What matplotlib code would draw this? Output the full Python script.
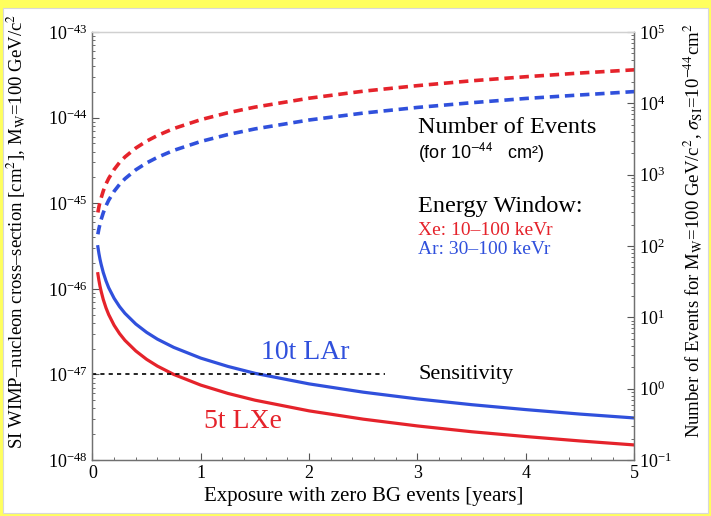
import matplotlib
matplotlib.use('Agg')
import matplotlib.pyplot as plt
from matplotlib.patches import Rectangle
from matplotlib.ticker import LogLocator, MultipleLocator

plt.rcParams['font.family'] = ['Liberation Serif', 'DejaVu Serif']
plt.rcParams['mathtext.fontset'] = 'stix'

# exposure [years]
years = [0.05, 0.06, 0.07, 0.08, 0.1, 0.125, 0.15, 0.2, 0.25, 0.3, 0.4, 0.5,
         0.6, 0.75, 1.0, 1.25, 1.5, 2.0, 2.5, 3.0, 3.5, 4.0, 4.5, 5.0]

# sensitivity curves, in units of 1e-48 cm^2
xe_sens = [150, 125, 107, 94, 75, 60, 50, 37.5, 30, 25, 18.8, 15,
           12.5, 10, 7.5, 6.0, 5.0, 3.75, 3.0, 2.5, 2.14, 1.88, 1.67, 1.5]
ar_sens = [310, 258, 221, 194, 155, 124, 103, 77.5, 62, 51.7, 38.8, 31,
           25.8, 20.7, 15.5, 12.4, 10.3, 7.75, 6.2, 5.17, 4.43, 3.88, 3.44, 3.1]

# number of events (right axis)
xe_events = [295, 355, 415, 470, 590, 740, 885, 1180, 1480, 1770, 2360, 2950,
             3540, 4430, 5900, 7380, 8850, 11800, 14800, 17700, 20700, 23600, 26600, 29500]
ar_events = [146, 175, 204, 234, 292, 365, 438, 584, 730, 876, 1170, 1460,
             1750, 2190, 2920, 3650, 4380, 5840, 7300, 8760, 10200, 11700, 13100, 14600]

sens_level = 1e-47
sens_x_end = 2.7

RED = '#e5232b'
BLUE = '#3050dc'

fig = plt.figure(figsize=(7.11, 5.16), dpi=100)
fig.patch.set_facecolor('#ffff5e')
fig.patches.append(Rectangle((3 / 711, 3 / 516), 705 / 711, 505 / 516,
                             transform=fig.transFigure, facecolor='white',
                             edgecolor='#d8d8d8', lw=0.8, zorder=-5))

ax = fig.add_axes([0.130, 0.1085, 0.762, 0.8295])
ax.set_facecolor('none')
ax2 = ax.twinx()

ax.plot(years, [v * 1e-48 for v in xe_sens], color=RED, lw=2.3)
ax.plot(years, [v * 1e-48 for v in ar_sens], color=BLUE, lw=2.3)
ax.hlines(sens_level, 0, sens_x_end, color='black', lw=1.2,
          linestyles=(0, (2.5, 2.5)))

ax2.plot(years, xe_events, color=RED, lw=2.6, ls=(0, (2.6, 1.6)))
ax2.plot(years, ar_events, color=BLUE, lw=2.6, ls=(0, (2.6, 1.6)))

ax.set_yscale('log')
ax.set_ylim(1e-48, 1e-43)
ax.set_xlim(0, 5)
ax2.set_yscale('log')
ax2.set_ylim(1e-1, 1e5)

ax.xaxis.set_major_locator(MultipleLocator(1))
ax.xaxis.set_minor_locator(MultipleLocator(0.2))
ax.yaxis.set_major_locator(LogLocator(base=10, numticks=10))
ax.yaxis.set_minor_locator(LogLocator(base=10, subs=range(2, 10), numticks=20))
ax2.yaxis.set_major_locator(LogLocator(base=10, numticks=10))
ax2.yaxis.set_minor_locator(LogLocator(base=10, subs=range(2, 10), numticks=20))

for a in (ax, ax2):
    for s in a.spines.values():
        s.set_color('#707070')
        s.set_linewidth(0.9)
    a.spines['top'].set_color('#d0d0d0')
ax.tick_params(axis='both', which='both', direction='in', top=False,
               colors='#555555', labelcolor='black', labelsize=13)
ax.tick_params(which='major', length=5)
ax.tick_params(which='minor', length=2.5)
ax2.tick_params(axis='y', which='both', direction='in', colors='#555555',
                labelcolor='black', labelsize=13)
ax2.tick_params(which='major', length=5)
ax2.tick_params(which='minor', length=2.5)

ax.set_xlabel('Exposure with zero BG events [years]', fontsize=15, labelpad=4)
ax.set_ylabel('SI WIMP\u2013nucleon cross\u2013section [cm$^2$], M$_\\mathrm{W}$=100 GeV/c$^2$',
              fontsize=13.5)
ax2.set_ylabel('Number of Events for M$_\\mathrm{W}$=100 GeV/c$^2$, '
               '$\\sigma_\\mathrm{SI}$=10$^{-44}$cm$^2$', fontsize=13.5)
ax.yaxis.set_label_coords(-0.118, 0.535)
ax2.yaxis.set_label_coords(1.088, 0.535)

ax.text(0.392, 0.252, '10t LAr', transform=ax.transAxes, color=BLUE,
        fontsize=20, ha='center', va='center')
ax.text(0.278, 0.089, '5t LXe', transform=ax.transAxes, color=RED,
        fontsize=20, ha='center', va='center')
ax.text(0.601, 0.199, 'Sensitivity', transform=ax.transAxes,
        fontsize=16, ha='left', va='center')
ax.text(0.601, 0.776, 'Number of Events', transform=ax.transAxes,
        fontsize=17.5, ha='left', va='center')
ax.text(0.601, 0.717, '(for 10$^{\\mathsf{-44}}$   cm\u00b2)', transform=ax.transAxes,
        fontsize=13, ha='left', va='center', family=['Liberation Sans', 'DejaVu Sans'])
ax.text(0.601, 0.593, 'Energy Window:', transform=ax.transAxes,
        fontsize=17.5, ha='left', va='center')
ax.text(0.601, 0.537, 'Xe: 10\u2013100 keVr', transform=ax.transAxes, color=RED,
        fontsize=14, ha='left', va='center')
ax.text(0.601, 0.491, 'Ar: 30\u2013100 keVr', transform=ax.transAxes, color=BLUE,
        fontsize=14, ha='left', va='center')

fig.savefig('out.png', dpi=100, facecolor=fig.get_facecolor())
